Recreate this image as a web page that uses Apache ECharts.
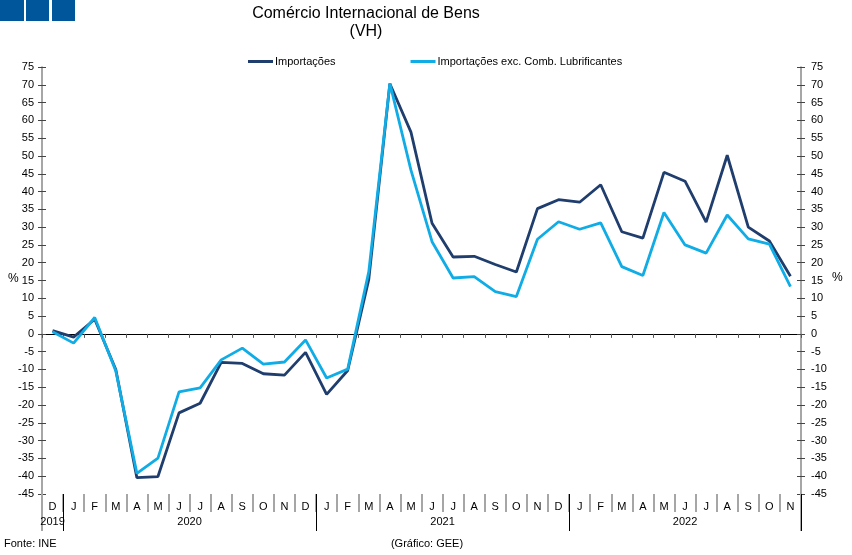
<!DOCTYPE html>
<html><head><meta charset="utf-8">
<script src="https://cdn.jsdelivr.net/npm/echarts@6/dist/echarts.min.js"></script>
<style>html,body{margin:0;padding:0;background:#fff}#c{width:852px;height:555px}</style>
</head><body><div id="c"></div>
<script>
// ---- data ----
const monthLabels = ['D',
  'J','F','M','A','M','J','J','A','S','O','N','D',
  'J','F','M','A','M','J','J','A','S','O','N','D',
  'J','F','M','A','M','J','J','A','S','O','N'];
const yearLabels = ['2019','2020','2021','2022'];
const yearFirstIndex = [0, 1, 13, 25];
const yearLastIndex = [0, 12, 24, 35];
const importacoes = [0.9, -0.9, 4.1, -10.0, -40.4, -40.1, -22.2, -19.5, -8.0, -8.3, -11.2, -11.6, -5.2, -17.0, -10.3,
  15.3, 70.3, 56.7, 31.1, 21.6, 21.8, 19.5, 17.4, 35.2, 37.7, 37.0, 41.9, 28.7, 26.9, 45.4, 42.9, 31.4, 50.2, 30.0, 26.1, 16.2];
const importacoesExc = [0.6, -2.6, 4.6, -10.4, -39.2, -34.9, -16.3, -15.2, -7.3, -4.0, -8.5, -7.9, -1.7, -12.4, -9.9,
  17.5, 70.4, 46.0, 25.9, 15.7, 16.1, 11.9, 10.5, 26.6, 31.5, 29.4, 31.2, 18.9, 16.4, 34.1, 25.0, 22.7, 33.4, 26.7, 25.2, 13.3];
const seriesNames = ['Importações', 'Importações exc. Comb. Lubrificantes'];
const yMin = -45, yMax = 75, yStep = 5;

// ---- chart ----
const FONT = "'Liberation Sans', Arial, sans-serif";
const catKeys = monthLabels.map((m, i) => String(i));
const chart = echarts.init(document.getElementById('c'), null, {renderer: 'canvas'});
const baseY = {type: 'value', min: yMin, max: yMax, interval: yStep, splitLine: {show: false}};
chart.setOption({
  animation: false,
  backgroundColor: '#fff',
  textStyle: {fontFamily: FONT, color: '#000'},
  grid: {left: 42, right: 51, top: 67, bottom: 61, containLabel: false},
  legend: {
    data: seriesNames, left: 243, top: 51, icon: 'rect', itemWidth: 25, itemHeight: 3, itemGap: 75,
    textStyle: {fontFamily: FONT, fontSize: 11, color: '#000', padding: [0, 0, 0, -3]}
  },
  xAxis: [
    { // zero line with boundary ticks
      type: 'category', data: catKeys, boundaryGap: true, position: 'bottom',
      axisLine: {onZero: true, lineStyle: {color: '#000', width: 1}},
      axisTick: {show: true, interval: 0, length: 4, lineStyle: {color: '#555'}},
      axisLabel: {show: false}, splitLine: {show: false}
    },
    { // month labels at bottom with gray separators
      type: 'category', data: catKeys, boundaryGap: true, position: 'bottom',
      axisLine: {show: false, onZero: false},
      axisTick: {show: true, interval: 0, length: 18, lineStyle: {color: '#a6a6a6', width: 2}},
      axisLabel: {show: true, interval: 0, margin: 7, fontSize: 11, color: '#000', fontFamily: FONT,
        formatter: (v) => monthLabels[+v]},
      splitLine: {show: false}
    },
    { // year separators
      type: 'category', data: catKeys, boundaryGap: true, position: 'bottom',
      axisLine: {show: false, onZero: false},
      axisTick: {show: true, length: 37, lineStyle: {color: '#000', width: 1},
        interval: (i) => yearFirstIndex.indexOf(i) > 0},
      axisLabel: {show: false}, splitLine: {show: false}
    }
  ],
  yAxis: [
    Object.assign({}, baseY, {position: 'left',
      axisLine: {show: true, lineStyle: {color: '#888', width: 1.5}},
      axisTick: {show: true, length: 4, lineStyle: {color: '#444'}},
      axisLabel: {fontSize: 11, color: '#000', margin: 8, fontFamily: FONT}}),
    Object.assign({}, baseY, {position: 'right',
      axisLine: {show: true, lineStyle: {color: '#888', width: 1.5}},
      axisTick: {show: true, length: 4, lineStyle: {color: '#444'}},
      axisLabel: {fontSize: 11, color: '#000', margin: 10, fontFamily: FONT}}),
    Object.assign({}, baseY, {position: 'left', axisLine: {show: false},
      axisTick: {show: true, inside: true, length: 4, lineStyle: {color: '#444'}}, axisLabel: {show: false}}),
    Object.assign({}, baseY, {position: 'right', axisLine: {show: false},
      axisTick: {show: true, inside: true, length: 4, lineStyle: {color: '#444'}}, axisLabel: {show: false}})
  ],
  series: [
    {name: seriesNames[0], type: 'line', data: importacoes, xAxisIndex: 0, yAxisIndex: 0,
      symbol: 'none', lineStyle: {color: '#1f3d6d', width: 2.8}, itemStyle: {color: '#1f3d6d'}},
    {name: seriesNames[1], type: 'line', data: importacoesExc, xAxisIndex: 0, yAxisIndex: 0,
      symbol: 'none', lineStyle: {color: '#10ace6', width: 2.8}, itemStyle: {color: '#10ace6'}}
  ]
});

// decorations positioned through the chart's scales
const px = (i) => chart.convertToPixel({xAxisIndex: 0}, catKeys[i]);
const py = (v) => chart.convertToPixel({yAxisIndex: 0}, v);
const half = (px(1) - px(0)) / 2;
const xLeft = px(0) - half, xRight = px(catKeys.length - 1) + half;
const yBottom = py(yMin);
const graphics = [
  {type: 'rect', shape: {x: 0, y: 0, width: 24, height: 21}, style: {fill: '#00569b'}},
  {type: 'rect', shape: {x: 26, y: 0, width: 23, height: 21}, style: {fill: '#00569b'}},
  {type: 'rect', shape: {x: 52, y: 0, width: 23, height: 21}, style: {fill: '#00569b'}},
  {type: 'text', x: 366, y: 6, style: {text: 'Comércio Internacional de Bens', font: '16px ' + FONT, fill: '#000', textAlign: 'center'}},
  {type: 'text', x: 366, y: 24, style: {text: '(VH)', font: '16px ' + FONT, fill: '#000', textAlign: 'center'}},
  {type: 'text', x: 8, y: py(15) - 8, style: {text: '%', font: '12px ' + FONT, fill: '#000'}},
  {type: 'text', x: 832, y: py(15) - 9, style: {text: '%', font: '12px ' + FONT, fill: '#000'}},
  {type: 'line', shape: {x1: xLeft, y1: yBottom, x2: xLeft, y2: yBottom + 37}, style: {stroke: '#888', lineWidth: 1.5}},
  {type: 'line', shape: {x1: xRight, y1: yBottom, x2: xRight, y2: yBottom + 37}, style: {stroke: '#888', lineWidth: 1.5}},
  {type: 'text', x: 4, y: 538, style: {text: 'Fonte: INE', font: '11px ' + FONT, fill: '#000'}},
  {type: 'text', x: 427, y: 538, style: {text: '(Gráfico: GEE)', font: '11px ' + FONT, fill: '#000', textAlign: 'center'}}
];
yearLabels.forEach((y, k) => {
  const cx = (px(yearFirstIndex[k]) + px(yearLastIndex[k])) / 2;
  graphics.push({type: 'text', x: cx, y: yBottom + 22, style: {text: y, font: '11px ' + FONT, fill: '#000', textAlign: 'center'}});
});
chart.setOption({graphic: graphics});
</script>
</body></html>
